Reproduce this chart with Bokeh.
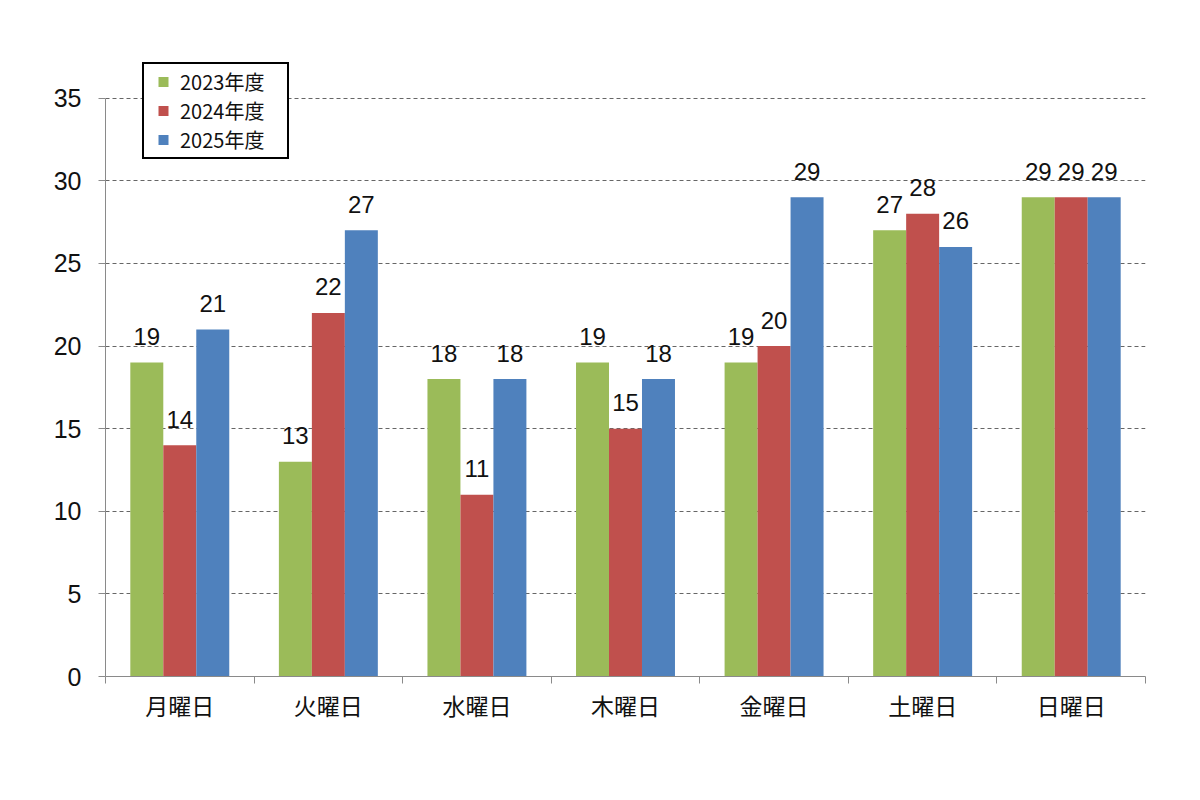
import numpy as np
from bokeh.plotting import figure, ColumnDataSource
from bokeh.models import Range1d, FixedTicker, Legend, LegendItem
from bokeh.transform import dodge
from bokeh.core.properties import value
from bokeh.embed import file_html
from bokeh.resources import INLINE

# data
days = ['月曜日', '火曜日', '水曜日', '木曜日', '金曜日', '土曜日', '日曜日']
years = ['2023年度', '2024年度', '2025年度']
v2023 = [19, 13, 18, 19, 19, 27, 29]
v2024 = [14, 22, 11, 15, 20, 28, 29]
v2025 = [21, 27, 18, 18, 29, 26, 29]
y_ticks = [0, 5, 10, 15, 20, 25, 30, 35]

colors = ['#9BBB59', '#C0504D', '#4F81BD']
num_font = 'Liberation Sans'
jp_font = 'Noto Sans CJK JP'
grey = '#8a8a8a'

centers = np.arange(len(days)) + 0.5
bar_w = 0.222

p = figure(width=1184, height=784, output_backend="svg", toolbar_location=None,
           tools='', min_border_left=105, min_border_right=39,
           min_border_top=20, min_border_bottom=108)
p.x_range = Range1d(0, len(days))
p.y_range = Range1d(0, 39.7)   # headroom above 35 for the legend
p.outline_line_color = None
p.background_fill_color = 'white'
p.border_fill_color = 'white'

items = []
for series, name, col, off in zip([v2023, v2024, v2025], years, colors, [-bar_w, 0, bar_w]):
    src = ColumnDataSource(dict(x=centers, top=series, lab=[str(v) for v in series]))
    p.vbar(x=dodge('x', off, range=p.x_range), top='top', width=bar_w, source=src,
           fill_color=col, line_color=None)
    p.text(x=dodge('x', off, range=p.x_range), y='top', text='lab', source=src,
           text_align='center', text_baseline='alphabetic', y_offset=-26,
           text_font=value(num_font), text_font_size='24px', text_color='#111111')
    # hidden square markers, only used for the legend swatch
    sw = p.scatter(x=dodge('x', off, range=p.x_range), y='top', source=src,
                   marker='square', fill_color=col, line_color=None, visible=False)
    items.append(LegendItem(label=name, renderers=[sw]))

# y axis
p.yaxis.ticker = FixedTicker(ticks=y_ticks)
p.yaxis.bounds = (0, 35)
p.yaxis.axis_line_color = grey
p.yaxis.major_tick_line_color = grey
p.yaxis.major_tick_out = 7
p.yaxis.major_tick_in = 0
p.yaxis.minor_tick_line_color = None
p.yaxis.major_label_text_font = num_font
p.yaxis.major_label_text_font_size = '25px'
p.yaxis.major_label_text_color = '#111111'
p.yaxis.major_label_standoff = 17

# x axis: labels at centres, tick marks between categories
p.xaxis.ticker = FixedTicker(ticks=list(centers), minor_ticks=list(range(len(days) + 1)))
p.xaxis.major_label_overrides = {float(c): d for c, d in zip(centers, days)}
p.xaxis.axis_line_color = grey
p.xaxis.major_tick_line_color = None
p.xaxis.minor_tick_line_color = grey
p.xaxis.minor_tick_out = 7
p.xaxis.minor_tick_in = 0
p.xaxis.major_label_text_font = jp_font
p.xaxis.major_label_text_font_size = '23px'
p.xaxis.major_label_text_color = '#111111'
p.xaxis.major_label_standoff = 4

# grid
p.xgrid.visible = False
p.ygrid.ticker = FixedTicker(ticks=y_ticks[1:])
p.ygrid.grid_line_color = '#666666'
p.ygrid.grid_line_dash = '4 3'
p.ygrid.grid_line_width = 1

legend = Legend(items=items, location=(37, 517))
legend.border_line_color = 'black'
legend.border_line_alpha = 1
legend.border_line_width = 2
legend.background_fill_color = 'white'
legend.background_fill_alpha = 1
legend.inactive_fill_alpha = 0
legend.label_text_font = jp_font
legend.label_text_font_size = '20px'
legend.label_text_color = '#111111'
legend.glyph_width = 32
legend.glyph_height = 25
legend.label_height = 25
legend.label_width = 104
legend.spacing = 0
legend.padding = 3
legend.margin = 0
legend.label_standoff = 1
p.add_layout(legend)

open("out.html", "w").write(file_html(p, INLINE))
